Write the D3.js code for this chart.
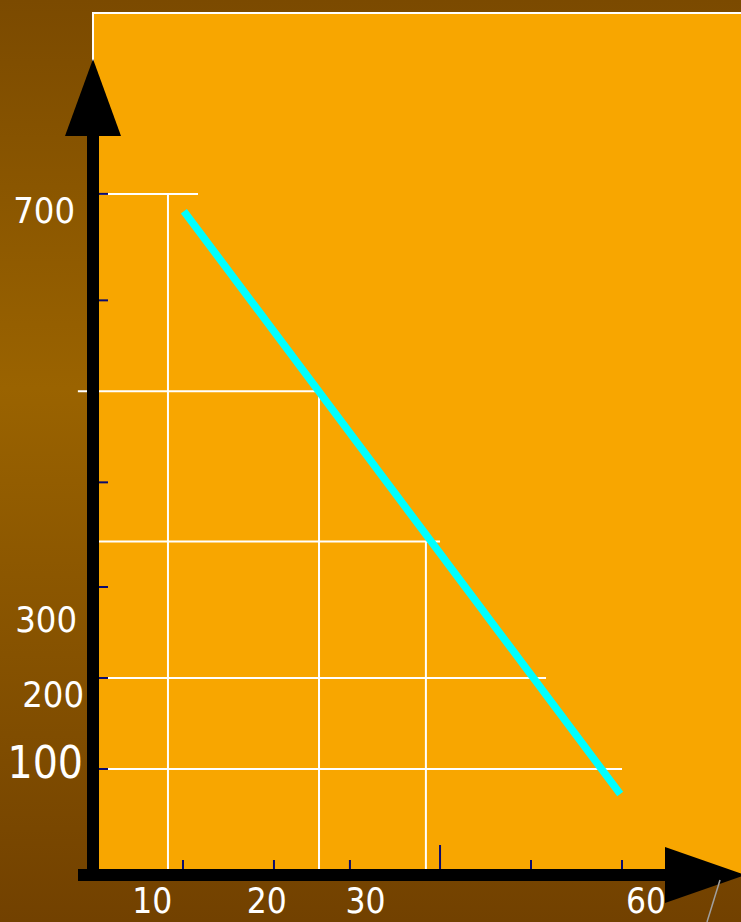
<!DOCTYPE html>
<html>
<head>
<meta charset="utf-8">
<script src="https://cdn.jsdelivr.net/npm/d3@7"></script>
<style>
  html, body { margin: 0; padding: 0; background: #7c4b00; }
  svg { display: block; }
</style>
</head>
<body>
<svg id="chart" width="741" height="922"></svg>
<script>
// ---- data ----
const xTickValues = [10.3, 20.6, 29.2, 39.4, 49.7, 60];
const xTallTick = 39.4;
const yTickValues = [732, 615, 415, 300, 200, 100];
const xLabels = ["10", "20", "30", "60"];
const xLabelValues = [10, 20, 30, 60];
const yLabels = ["700", "300", "200", "100"];
const yLabelValues = [700, 300, 200, 100];
// demand line end points [x, y]
const demandLine = [[10.4, 713], [59.8, 72.5]];
// horizontal guide lines: y value, from x, to x
const hGuideY = [732, 515, 350, 200, 100];
const hGuideFrom = [0.9, -1.6, 0.1, 0.1, 0.1];
const hGuideTo = [12.0, 25.8, 39.4, 51.4, 60];
// vertical guide lines: x value, top y value
const vGuideX = [8.6, 25.7, 37.8];
const vGuideTop = [732, 515, 350];

// ---- layout ----
const W = 741, H = 922;
const svg = d3.select("#chart");
const x = d3.scaleLinear().domain([0, 60]).range([92, 622]);
const y = d3.scaleLinear().domain([0, 700]).range([860, 223]);
const axisY = 875;

const defs = svg.append("defs");
const grad = defs.append("linearGradient").attr("id", "bg")
  .attr("x1", 0).attr("y1", 0).attr("x2", 0).attr("y2", 1);
[[0, "#7b4a00"], [0.42, "#9a6300"], [1, "#724100"]].forEach(([o, c]) =>
  grad.append("stop").attr("offset", o).attr("stop-color", c));

svg.append("rect").attr("width", W).attr("height", H).attr("fill", "url(#bg)");

// orange plot panel
svg.append("rect").attr("x", 93).attr("y", 13).attr("width", W - 93).attr("height", axisY - 13)
  .attr("fill", "#f8a600");
svg.append("path").attr("d", `M93,${axisY} V13 H${W}`)
  .attr("fill", "none").attr("stroke", "#ffffff").attr("stroke-width", 2);

// white guide lines
const g = svg.append("g").attr("stroke", "#ffffff").attr("stroke-width", 2);
hGuideY.forEach((v, i) => {
  g.append("line").attr("x1", x(hGuideFrom[i])).attr("x2", x(hGuideTo[i]))
    .attr("y1", y(v)).attr("y2", y(v));
});
vGuideX.forEach((v, i) => {
  g.append("line").attr("x1", x(v)).attr("x2", x(v))
    .attr("y1", y(vGuideTop[i])).attr("y2", axisY);
});

// demand line
svg.append("path")
  .attr("d", d3.line().x(d => x(d[0])).y(d => y(d[1]))(demandLine))
  .attr("fill", "none").attr("stroke", "#00ffff").attr("stroke-width", 7.5);

// ticks
svg.append("g").selectAll("line").data(yTickValues).join("line")
  .attr("x1", 93).attr("x2", 108).attr("y1", d => y(d)).attr("y2", d => y(d))
  .attr("stroke", "#0a0a6e").attr("stroke-width", 2);
svg.append("g").selectAll("line").data(xTickValues).join("line")
  .attr("x1", d => x(d)).attr("x2", d => x(d))
  .attr("y1", d => d === xTallTick ? 845 : 860).attr("y2", axisY)
  .attr("stroke", "#0a0a6e").attr("stroke-width", 2);

// axes (thick black with arrows)
svg.append("rect").attr("x", 87).attr("y", 130).attr("width", 12).attr("height", 881 - 130).attr("fill", "#000");
svg.append("path").attr("d", "M93,59 L121,136 L65,136 Z").attr("fill", "#000");
svg.append("rect").attr("x", 78).attr("y", 869).attr("width", 670 - 78).attr("height", 12).attr("fill", "#000");
svg.append("path").attr("d", "M665,847 L745,875 L665,903 Z").attr("fill", "#000");

// small grey decoration line bottom right
svg.append("line").attr("x1", 720).attr("y1", 880).attr("x2", 707).attr("y2", 922)
  .attr("stroke", "#a0a0a0").attr("stroke-width", 1.5);

// labels
const font = "'DejaVu Sans Condensed', 'DejaVu Sans', sans-serif";
const yLabelDy = [0, 45, 29, 9];
const yLabelRight = [75, 77, 84, 83];
const yLabelSize = [36, 36, 36, 44];
yLabels.forEach((t, i) => {
  svg.append("text").text(t)
    .attr("x", yLabelRight[i]).attr("y", y(yLabelValues[i]) + yLabelDy[i])
    .attr("text-anchor", "end").attr("fill", "#ffffff")
    .attr("font-family", font).attr("font-size", yLabelSize[i]);
});
const xLabelDx = [-28, -2, 8.5, 24];
xLabels.forEach((t, i) => {
  svg.append("text").text(t)
    .attr("x", x(xLabelValues[i]) + xLabelDx[i]).attr("y", 913)
    .attr("text-anchor", "middle").attr("fill", "#ffffff")
    .attr("font-family", font).attr("font-size", 35);
});
</script>
</body>
</html>
